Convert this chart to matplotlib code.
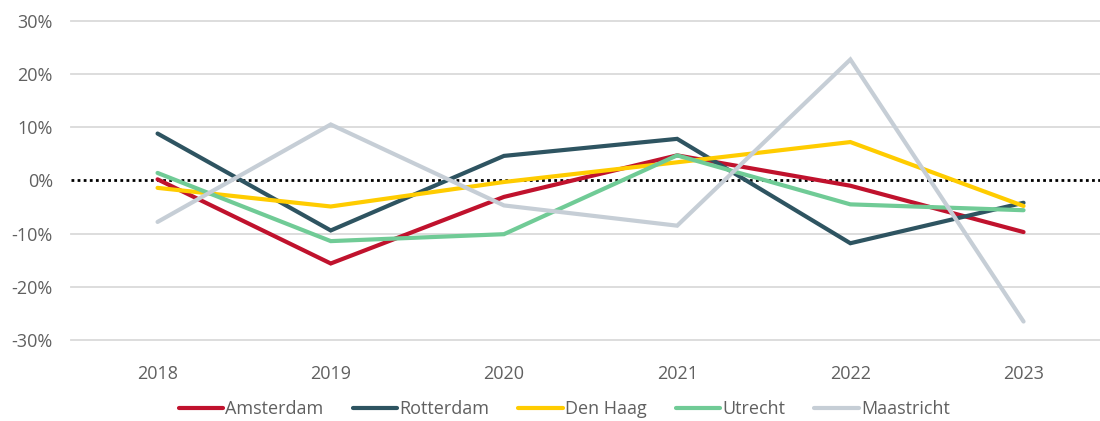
import matplotlib.pyplot as plt
from matplotlib.ticker import FuncFormatter

plt.rcParams['font.family'] = ['Open Sans', 'DejaVu Sans']

# Jaren en procentuele verandering per stad
jaren = ["2018", "2019", "2020", "2021", "2022", "2023"]
amsterdam = [0.2, -15.6, -3.1, 4.7, -1.0, -9.7]
rotterdam = [8.8, -9.4, 4.6, 7.8, -11.8, -4.2]
den_haag = [-1.4, -4.9, -0.3, 3.4, 7.2, -4.8]
utrecht = [1.4, -11.4, -10.1, 4.7, -4.5, -5.6]
maastricht = [-7.8, 10.5, -4.7, -8.5, 22.7, -26.5]

steden = ["Amsterdam", "Rotterdam", "Den Haag", "Utrecht", "Maastricht"]
reeksen = [amsterdam, rotterdam, den_haag, utrecht, maastricht]
kleuren = ["#C0122D", "#2E5461", "#FFCC00", "#70CB96", "#C6CED6"]

fig = plt.figure(figsize=(11, 4.21), dpi=100)
ax = fig.add_axes([0.0645, 0.192, 0.94, 0.759])

x = list(range(len(jaren)))
for naam, waarden, kleur in zip(steden, reeksen, kleuren):
    ax.plot(x, waarden, color=kleur, lw=3, label=naam,
            solid_capstyle='round', solid_joinstyle='miter', zorder=3)

# Nullijn gestippeld
ax.axhline(0, color='black', lw=2, ls=(0, (1, 1.2)), zorder=2)

ax.set_ylim(-30, 30)
ax.set_xlim(-0.5, 5.47)
ax.set_yticks([-30, -20, -10, 0, 10, 20, 30])
ax.yaxis.set_major_formatter(FuncFormatter(lambda v, p: f"{v:.0f}%"))
ax.set_xticks(x)
ax.set_xticklabels(jaren)

for y in [-30, -20, -10, 10, 20, 30]:
    ax.axhline(y, color='#DADADA', lw=1.3, zorder=1, clip_on=False)

for s in ax.spines.values():
    s.set_visible(False)
ax.tick_params(axis='both', length=0, labelsize=13, colors='#606060')
ax.tick_params(axis='y', pad=13)
ax.tick_params(axis='x', pad=18)

fig.legend(loc='center', bbox_to_anchor=(0.513, 0.028), ncol=5, frameon=False,
           fontsize=13, handlelength=2.45, handletextpad=0.12, columnspacing=1.62,
           labelcolor='#606060')

fig.savefig("out.png", dpi=100)
